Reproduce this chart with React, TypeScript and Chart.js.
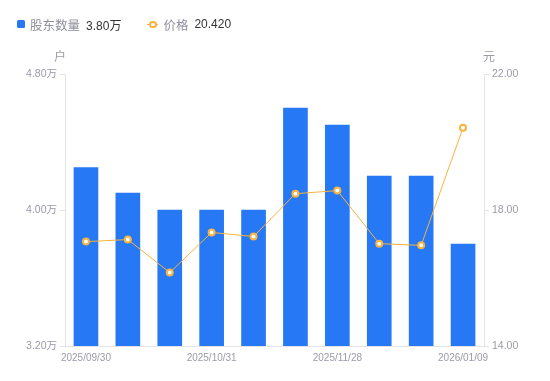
import React, { useEffect, useRef } from "react";
import { Chart, registerables } from "chart.js";

Chart.register(...registerables);

const categories = [
  "2025/09/30", "2025/10/10", "2025/10/20", "2025/10/31", "2025/11/10",
  "2025/11/20", "2025/11/28", "2025/12/10", "2025/12/31", "2026/01/09",
];
const holders = [4.25, 4.10, 4.00, 4.00, 4.00, 4.60, 4.50, 4.20, 4.20, 3.80];
const prices = [17.07, 17.13, 16.16, 17.34, 17.22, 18.48, 18.57, 17.01, 16.96, 20.42];
const leftTicks = [3.2, 4.0, 4.8];
const rightTicks = [14, 18, 22];

const FONT = '"Liberation Sans", "Noto Sans CJK SC", sans-serif';
const GRAY = "#9b9ba8";
const AXIS = "#e3e3ea";
const BLUE = "#2778f4";
const ORANGE = "#f7b33f";

const unitPlugin = {
  id: "units",
  afterDraw(chart: any) {
    const { ctx, chartArea } = chart;
    ctx.save();
    ctx.font = `12px ${FONT}`;
    ctx.fillStyle = GRAY;
    ctx.textAlign = "center";
    ctx.textBaseline = "middle";
    ctx.fillText("户", chartArea.left - 5, chartArea.top - 16);
    ctx.fillText("元", chartArea.right + 5, chartArea.top - 16);
    ctx.restore();
  },
};

export default function App() {
  const ref = useRef<HTMLCanvasElement>(null);
  useEffect(() => {
    const chart = new Chart(ref.current!, {
      type: "bar",
      data: {
        labels: categories,
        datasets: [
          {
            type: "line",
            label: "价格",
            data: prices,
            yAxisID: "y1",
            borderColor: ORANGE,
            borderWidth: 1,
            pointRadius: 3,
            pointBorderWidth: 2,
            pointBackgroundColor: "#fff",
            pointBorderColor: ORANGE,
            tension: 0,
            order: 0,
          } as any,
          {
            type: "bar",
            label: "股东数量",
            data: holders,
            yAxisID: "y",
            backgroundColor: BLUE,
            barThickness: 24,
            order: 1,
          },
        ],
      },
      options: {
        animation: false,
        responsive: false,
        maintainAspectRatio: false,
        layout: { padding: { top: 74, left: 0, right: 0, bottom: 0 } },
        plugins: { legend: { display: false }, tooltip: { enabled: false } },
        scales: {
          x: {
            grid: { display: false, drawTicks: false },
            border: { display: true, color: AXIS },
            ticks: {
              autoSkip: false,
              maxRotation: 0,
              padding: 6,
              color: GRAY,
              font: { size: 10, family: FONT },
              callback: (_v: any, i: number) => (i % 3 === 0 ? categories[i] : ""),
            },
            afterFit: (s: any) => { s.height = 35; },
          },
          y: {
            position: "left",
            min: 3.2,
            max: 4.8,
            afterBuildTicks: (s: any) => { s.ticks = leftTicks.map((v) => ({ value: v })); },
            grid: { drawOnChartArea: false, tickLength: 5, color: AXIS },
            border: { display: true, color: AXIS },
            ticks: {
              padding: 3,
              color: GRAY,
              font: { size: 10.5, family: FONT },
              callback: (v: any) => Number(v).toFixed(2) + "万",
            },
            afterFit: (s: any) => { s.width = 65; },
          },
          y1: {
            position: "right",
            min: 14,
            max: 22,
            afterBuildTicks: (s: any) => { s.ticks = rightTicks.map((v) => ({ value: v })); },
            grid: { drawOnChartArea: false, tickLength: 5, color: AXIS },
            border: { display: true, color: AXIS },
            ticks: {
              padding: 3,
              color: GRAY,
              font: { size: 10.5, family: FONT },
              callback: (v: any) => Number(v).toFixed(2),
            },
            afterFit: (s: any) => { s.width = 66; },
          },
        },
      },
      plugins: [unitPlugin],
    });
    return () => chart.destroy();
  }, []);

  return (
    <div style={{ position: "absolute", left: 0, top: 0, width: 550, height: 381, background: "#fff", fontFamily: FONT }}>
      <canvas ref={ref} width={550} height={381} style={{ position: "absolute", left: 0, top: 0 }} />
      <div style={{ position: "absolute", left: 17, top: 16, height: 16, display: "flex", alignItems: "center", fontSize: 12, whiteSpace: "nowrap" }}>
        <span style={{ width: 8, height: 8, background: BLUE, borderRadius: 1.5, display: "inline-block" }} />
        <span style={{ color: "#8e8e9c", marginLeft: 5, fontSize: 12.5 }}>股东数量</span>
        <span style={{ color: "#333", marginLeft: 6 }}>{holders[holders.length - 1].toFixed(2)}万</span>
        <span style={{ position: "relative", width: 11, height: 8, marginLeft: 26, display: "inline-block" }}>
          <span style={{ position: "absolute", left: 0, top: 3.5, width: 11, height: 1.5, background: ORANGE }} />
          <span style={{ position: "absolute", left: 2, top: 0.5, width: 3.5, height: 3.5, border: `2px solid ${ORANGE}`, borderRadius: "50%", background: "#fff" }} />
        </span>
        <span style={{ color: "#8e8e9c", marginLeft: 5, fontSize: 12.5 }}>价格</span>
        <span style={{ color: "#333", marginLeft: 6 }}>{prices[prices.length - 1].toFixed(3)}</span>
      </div>
    </div>
  );
}
